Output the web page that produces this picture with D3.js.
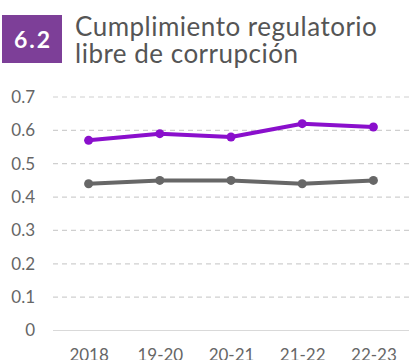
<!DOCTYPE html>
<html>
<head>
<meta charset="utf-8">
<script src="https://cdn.jsdelivr.net/npm/d3@7"></script>
<style>
  html, body { margin: 0; padding: 0; background: #fff; }
  svg { display: block; font-family: Lato, "Open Sans", sans-serif; }
</style>
</head>
<body>
<svg id="chart" width="409" height="360"></svg>
<script>
// Indicator 6.2 — regulatory compliance free of corruption
const periods = ["2018", "19-20", "20-21", "21-22", "22-23"];
const seriesPurple = [0.57, 0.59, 0.58, 0.62, 0.61];
const seriesGray = [0.44, 0.45, 0.45, 0.44, 0.45];
const yTicks = [0, 0.1, 0.2, 0.3, 0.4, 0.5, 0.6, 0.7];
const badgeText = "6.2";
const titleLines = ["Cumplimiento regulatorio", "libre de corrupción"];

const svg = d3.select("#chart");

// Header badge and title
svg.append("rect")
  .attr("x", 2).attr("y", 15).attr("width", 60).attr("height", 48)
  .attr("fill", "#7d3f98");
svg.append("text")
  .attr("x", 33).attr("y", 47.5)
  .attr("text-anchor", "middle")
  .attr("fill", "#fff")
  .attr("font-size", 23).attr("font-weight", 700)
  .attr("letter-spacing", 2)
  .text(badgeText);
svg.append("text")
  .attr("fill", "#555")
  .attr("font-size", 26)
  .attr("letter-spacing", 0.5)
  .selectAll("tspan").data(titleLines).join("tspan")
  .attr("x", 75)
  .attr("y", (d, i) => 36 + i * 27)
  .text(d => d);

// Scales
const x = d3.scalePoint().domain(periods).range([53, 409]).padding(0.5);
const y = d3.scaleLinear().domain([0, 0.7]).range([330.5, 97]);

// Gridlines
const grid = svg.append("g");
grid.selectAll("line").data(yTicks).join("line")
  .attr("x1", 53).attr("x2", 409)
  .attr("y1", d => y(d)).attr("y2", d => y(d))
  .attr("stroke", d => d === 0 ? "#d9d9d9" : "#cfcfcf")
  .attr("stroke-width", 1.2)
  .attr("stroke-dasharray", d => d === 0 ? null : "5,4");

// Y axis labels
const yAxis = svg.append("g")
  .attr("transform", "translate(35,0)")
  .call(d3.axisLeft(y).tickValues(yTicks).tickSize(0).tickPadding(0)
    .tickFormat(d => d === 0 ? "0" : d3.format(".1f")(d)));
yAxis.select(".domain").remove();
yAxis.selectAll("text")
  .attr("fill", "#666").attr("font-size", 17)
  .attr("font-family", "Lato, 'Open Sans', sans-serif");

// X axis labels
const xAxis = svg.append("g")
  .attr("transform", "translate(0,349)")
  .call(d3.axisBottom(x).tickSize(0).tickPadding(0));
xAxis.select(".domain").remove();
xAxis.selectAll("text")
  .attr("fill", "#666").attr("font-size", 17)
  .attr("font-family", "Lato, 'Open Sans', sans-serif");

// Lines with markers
const line = d3.line().x((d, i) => x(periods[i])).y(d => y(d));
function drawSeries(values, color) {
  const g = svg.append("g");
  g.append("path").datum(values)
    .attr("d", line)
    .attr("fill", "none")
    .attr("stroke", color)
    .attr("stroke-width", 4)
    .attr("stroke-linejoin", "round");
  g.selectAll("circle").data(values).join("circle")
    .attr("cx", (d, i) => x(periods[i]))
    .attr("cy", d => y(d))
    .attr("r", 4.5)
    .attr("fill", color);
}
drawSeries(seriesGray, "#676767");
drawSeries(seriesPurple, "#8a0fcc");
</script>
</body>
</html>
